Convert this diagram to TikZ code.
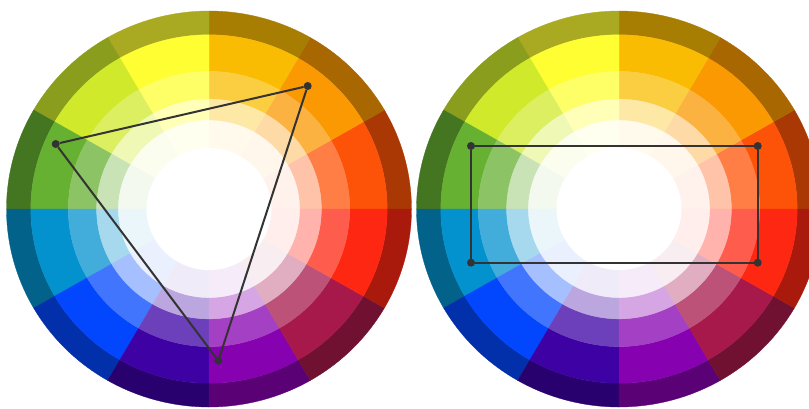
\documentclass[tikz,border=0pt]{standalone}

\definecolor{wheelRO}{HTML}{FD5308}
\definecolor{wheelO}{HTML}{FB9902}
\definecolor{wheelYO}{HTML}{FABC02}
\definecolor{wheelY}{HTML}{FEFE33}
\definecolor{wheelYG}{HTML}{D0EA2B}
\definecolor{wheelG}{HTML}{66B032}
\definecolor{wheelBG}{HTML}{0392CE}
\definecolor{wheelB}{HTML}{0247FE}
\definecolor{wheelBV}{HTML}{3D01A4}
\definecolor{wheelV}{HTML}{8601AF}
\definecolor{wheelRV}{HTML}{A7194B}
\definecolor{wheelR}{HTML}{FE2712}
\definecolor{linegray}{HTML}{333333}

\begin{document}
\begin{tikzpicture}[x=1pt, y=1pt,
  dot/.style={circle, fill=linegray, inner sep=0pt, minimum size=8pt},
  link/.style={draw=linegray, line width=2pt}]
  \useasboundingbox (0,0) rectangle (809,408);
  \clip (0,0) rectangle (809,408);
  \fill[white] (0,0) rectangle (809,408);

  % two identical wheels
  \foreach \cx in {209,619} {
    \begin{scope}[shift={(\cx,199)}, xscale=1.0125, yscale=0.99]
      \foreach \hue [count=\i from 0] in {wheelRO,wheelO,wheelYO,wheelY,wheelYG,wheelG,wheelBG,wheelB,wheelBV,wheelV,wheelRV,wheelR} {
        \pgfmathsetmacro\a{30*\i}
        \pgfmathsetmacro\b{30*\i+30}
        \foreach \ri/\ro/\tone in {176/200/\hue!67!black, 139/176/\hue, 111/139/\hue!75, 89.5/111/\hue!35, 62/89.5/\hue!8} {
          \filldraw[fill=\tone, draw=\tone, line width=0.3pt] (\a:\ri) -- (\a:\ro)
            arc[start angle=\a, end angle=\b, radius=\ro] -- (\b:\ri)
            arc[start angle=\b, end angle=\a, radius=\ri] -- cycle;
        }
      }
    \end{scope}
  }

  % triad
  \node[dot] (tri1) at (307.7,322) {};
  \node[dot] (tri2) at (55.7,264) {};
  \node[dot] (tri3) at (218.3,47.3) {};
  \draw[link] (tri1) -- (tri2);
  \draw[link] (tri2) -- (tri3);
  \draw[link] (tri3) -- (tri1);

  % tetrad
  \node[dot] (sq1) at (471,262) {};
  \node[dot] (sq2) at (757.7,262) {};
  \node[dot] (sq3) at (757.7,145.3) {};
  \node[dot] (sq4) at (471,145.3) {};
  \draw[link] (sq1) -- (sq2);
  \draw[link] (sq2) -- (sq3);
  \draw[link] (sq3) -- (sq4);
  \draw[link] (sq4) -- (sq1);
\end{tikzpicture}
\end{document}
